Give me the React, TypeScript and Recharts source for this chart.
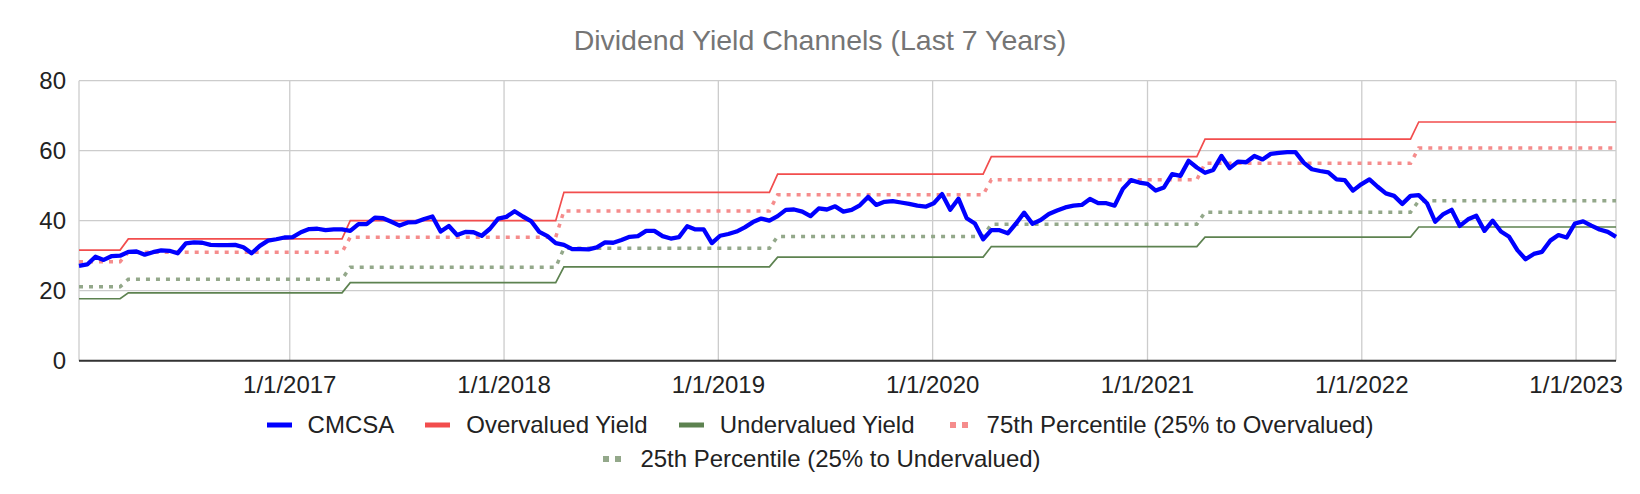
import React from 'react';
import { LineChart, Line, XAxis, YAxis, CartesianGrid } from 'recharts';

// CMCSA dividend yield-based price channel, sampled every 14 days from 1/8/2016
const FIRST_DATE = Date.UTC(2016, 0, 8);
const SAMPLE_DAYS = 14;

const cmcsa = [
  27.1, 27.5, 29.7, 28.8, 29.9, 30.0, 31.1, 31.2, 30.3, 31.0, 31.5, 31.4, 30.7, 33.5, 33.8, 33.7,
  33.1, 33.0, 33.0, 33.1, 32.4, 30.7, 32.8, 34.3, 34.7, 35.2, 35.3, 36.7, 37.6, 37.7, 37.3, 37.5,
  37.5, 37.1, 39.0, 39.0, 40.9, 40.7, 39.7, 38.6, 39.5, 39.6, 40.5, 41.2, 36.9, 38.5, 35.9, 36.8,
  36.7, 35.7, 37.7, 40.6, 41.1, 42.7, 41.2, 39.9, 36.8, 35.6, 33.6, 33.1, 31.9, 31.9, 31.8, 32.4,
  33.8, 33.7, 34.5, 35.4, 35.6, 37.1, 37.1, 35.6, 34.9, 35.3, 38.4, 37.5, 37.5, 33.6, 35.7, 36.2,
  36.9, 38.1, 39.6, 40.6, 40.0, 41.3, 43.1, 43.2, 42.6, 41.3, 43.5, 43.2, 44.1, 42.6, 43.1, 44.4,
  46.8, 44.5, 45.4, 45.6, 45.2, 44.8, 44.3, 44.0, 45.0, 47.6, 43.1, 46.3, 40.7, 39.2, 34.7, 37.3,
  37.3, 36.4, 39.2, 42.3, 39.1, 40.2, 41.9, 42.9, 43.8, 44.3, 44.5, 46.2, 45.0, 45.0, 44.3, 49.1,
  51.6, 50.9, 50.5, 48.6, 49.5, 53.3, 52.8, 57.1, 55.2, 53.7, 54.5, 58.5, 55.0, 56.9, 56.7, 58.5,
  57.5, 59.1, 59.4, 59.6, 59.6, 56.6, 54.7, 54.2, 53.8, 51.8, 51.6, 48.6, 50.4, 51.8, 49.7, 47.8,
  47.1, 44.8, 47.1, 47.3, 45.0, 39.7, 41.9, 43.1, 38.5, 40.4, 41.4, 37.1, 40.0, 36.9, 35.4, 31.6,
  29.0, 30.5, 31.1, 34.3, 35.9, 35.2, 39.2, 39.8, 38.6, 37.5, 36.8, 35.4,
];

// sample index where each dividend level starts, and the channel levels for it
const levelStart = [0, 6, 33, 59, 85, 111, 137, 163];
const overvalued = [31.6, 34.8, 40.0, 48.1, 53.3, 58.3, 63.3, 68.2];
const pct75 = [28.3, 31.0, 35.3, 42.8, 47.4, 51.7, 56.4, 60.8];
const pct25 = [21.1, 23.3, 26.7, 32.1, 35.5, 39.0, 42.4, 45.7];
const undervalued = [17.7, 19.4, 22.3, 26.8, 29.6, 32.6, 35.3, 38.2];

const tickYears = [2017, 2018, 2019, 2020, 2021, 2022, 2023];
const yTicks = [0, 20, 40, 60, 80];

const DAY = 86400000;
const data = cmcsa.map((v, i) => {
  const seg = levelStart.filter((s) => s <= i).length - 1;
  return {
    t: FIRST_DATE + i * SAMPLE_DAYS * DAY,
    cmcsa: v,
    over: overvalued[seg],
    p75: pct75[seg],
    p25: pct25[seg],
    under: undervalued[seg],
  };
});
const xTicks = tickYears.map((y) => Date.UTC(y, 0, 1));

const FONT = "Arial, 'Liberation Sans', sans-serif";
const COLORS = {
  cmcsa: '#0000ff',
  over: '#f24d4d',
  under: '#5d8250',
  p75: '#f58c8c',
  p25: '#93a88a',
};

const Swatch = ({ color, dotted }: { color: string; dotted?: boolean }) => (
  <svg width={25} height={8} style={{ display: 'block' }}>
    {dotted ? (
      <>
        <rect x={4} y={1} width={6} height={6} fill={color} />
        <rect x={16} y={1} width={6} height={6} fill={color} />
      </>
    ) : (
      <rect x={0} y={1.5} width={25} height={5} fill={color} />
    )}
  </svg>
);

const LegendItem = ({ color, label, dotted }: { color: string; label: string; dotted?: boolean }) => (
  <div style={{ display: 'flex', alignItems: 'center', gap: 16 }}>
    <Swatch color={color} dotted={dotted} />
    <span>{label}</span>
  </div>
);

export default function App() {
  return (
    <div style={{ position: 'absolute', left: 0, top: 0, width: 1640, height: 494, background: '#fff', fontFamily: FONT }}>
      <div
        style={{
          position: 'absolute', top: 23, left: 0, width: 1640, textAlign: 'center',
          fontSize: 28.5, lineHeight: '34px', color: '#757575',
        }}
      >
        Dividend Yield Channels (Last 7 Years)
      </div>

      <LineChart width={1640} height={494} data={data} margin={{ top: 80.7, right: 24, bottom: 93.3, left: 0 }}>
        <CartesianGrid stroke="#cccccc" strokeWidth={1.3} />
        <XAxis
          dataKey="t"
          type="number"
          domain={['dataMin', 'dataMax']}
          ticks={xTicks}
          tickFormatter={(d: number) => `1/1/${new Date(d).getUTCFullYear()}`}
          tickLine={false}
          tickSize={0}
          tickMargin={15}
          height={40}
          axisLine={{ stroke: '#333333', strokeWidth: 2 }}
          tick={{ fill: '#222222', fontSize: 24, fontFamily: FONT }}
        />
        <YAxis
          domain={[0, 80]}
          ticks={yTicks}
          width={79}
          axisLine={false}
          tickLine={false}
          tickSize={0}
          tickMargin={13}
          tick={{ fill: '#222222', fontSize: 24, fontFamily: FONT }}
        />
        <Line dataKey="over" stroke={COLORS.over} strokeWidth={1.7} dot={false} isAnimationActive={false} />
        <Line dataKey="under" stroke={COLORS.under} strokeWidth={1.7} dot={false} isAnimationActive={false} />
        <Line dataKey="p75" stroke={COLORS.p75} strokeWidth={3.5} strokeDasharray="4 6" dot={false} isAnimationActive={false} />
        <Line dataKey="p25" stroke={COLORS.p25} strokeWidth={3.5} strokeDasharray="4 6" dot={false} isAnimationActive={false} />
        <Line dataKey="cmcsa" stroke={COLORS.cmcsa} strokeWidth={4.3} dot={false} strokeLinejoin="round" isAnimationActive={false} />
      </LineChart>

      {/* legend */}
      <div style={{ position: 'absolute', top: 410, left: 0, width: 1640, fontSize: 24, color: '#222222', lineHeight: '30px' }}>
        <div style={{ display: 'flex', justifyContent: 'center', gap: 31 }}>
          <LegendItem color={COLORS.cmcsa} label="CMCSA" />
          <LegendItem color={COLORS.over} label="Overvalued Yield" />
          <LegendItem color={COLORS.under} label="Undervalued Yield" />
          <LegendItem color={COLORS.p75} label="75th Percentile (25% to Overvalued)" dotted />
        </div>
        <div style={{ display: 'flex', justifyContent: 'center', marginTop: 4 }}>
          <LegendItem color={COLORS.p25} label="25th Percentile (25% to Undervalued)" dotted />
        </div>
      </div>
    </div>
  );
}
